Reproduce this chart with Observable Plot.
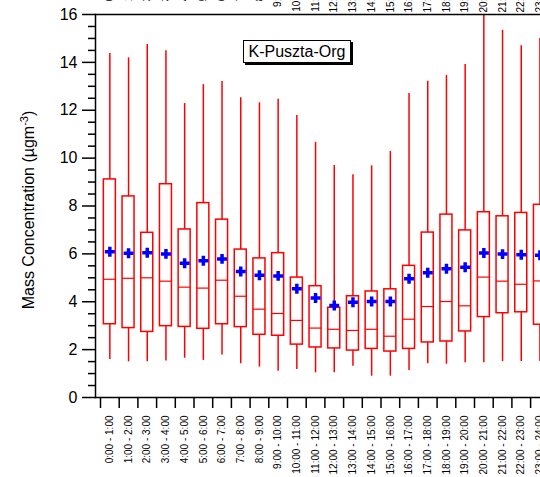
<!DOCTYPE html>
<html><head><meta charset="utf-8">
<script src="https://cdn.jsdelivr.net/npm/d3@7"></script>
<script src="https://cdn.jsdelivr.net/npm/@observablehq/plot@0.6"></script>
<style>
body{margin:0;background:#fff;}
#wrap{position:relative;width:540px;height:477px;overflow:hidden;font-family:Arial,"Liberation Sans",sans-serif;}
#wrap svg{overflow:hidden;display:block;}
#ylabel{position:absolute;left:28px;top:210px;transform:translate(-50%,-50%) rotate(-90deg);white-space:nowrap;font-size:16px;color:#000;}
#ylabel sup{font-size:11px;}
#legend{position:absolute;left:243px;top:40px;width:106px;height:21px;border:1px solid #000;box-shadow:2px 2px 0 #000;font-size:16px;text-align:center;line-height:21px;background:#fff;color:#000;}
</style></head>
<body><div id="wrap"><div id="ylabel">Mass Concentration (µgm<sup>-3</sup>)</div><div id="legend">K-Puszta-Org</div></div>
<script>
const hours = ["0:00 - 1:00","1:00 - 2:00","2:00 - 3:00","3:00 - 4:00","4:00 - 5:00","5:00 - 6:00","6:00 - 7:00","7:00 - 8:00","8:00 - 9:00","9:00 - 10:00","10:00 - 11:00","11:00 - 12:00","12:00 - 13:00","13:00 - 14:00","14:00 - 15:00","15:00 - 16:00","16:00 - 17:00","17:00 - 18:00","18:00 - 19:00","19:00 - 20:00","20:00 - 21:00","21:00 - 22:00","22:00 - 23:00","23:00 - 24:00"];
const whiskerLow = [1.59,1.49,1.49,1.53,1.64,1.55,1.78,1.41,1.27,1.10,1.17,1.03,1.03,1.31,0.89,0.89,1.13,1.41,1.39,1.45,1.45,1.50,1.50,1.50];
const q1 = [3.06,2.90,2.74,2.98,2.95,2.87,3.06,2.94,2.62,2.58,2.21,2.09,2.05,1.96,2.03,1.92,2.03,2.30,2.34,2.76,3.36,3.52,3.56,3.04];
const median = [4.94,4.98,5.00,4.86,4.61,4.57,4.90,4.23,3.69,3.51,3.22,2.90,2.85,2.80,2.85,2.56,3.27,3.80,4.01,3.83,5.03,4.86,4.73,4.87];
const q3 = [9.11,8.40,6.88,8.91,7.02,8.12,7.43,6.18,5.81,6.03,5.01,4.65,3.75,4.23,4.43,4.52,5.50,6.89,7.64,6.98,7.74,7.57,7.71,8.05];
const whiskerHigh = [14.37,14.19,14.75,14.49,12.28,13.07,13.20,12.52,12.31,12.46,11.78,10.66,9.69,9.31,9.68,10.28,12.70,13.21,13.45,13.91,16.50,15.34,14.69,15.00];
const mean = [6.09,6.03,6.05,6.00,5.61,5.71,5.79,5.26,5.11,5.08,4.54,4.16,3.84,3.98,4.01,4.01,4.96,5.21,5.38,5.44,6.04,5.99,5.96,5.94];
const yMajor = [0,2,4,6,8,10,12,14,16];

const data = hours.map((h, i) => ({i, c: i + 0.5, h, lo: whiskerLow[i], q1: q1[i], med: median[i], q3: q3[i], hi: whiskerHigh[i], mean: mean[i]}));
const yMinor = d3.range(0, 16.01, 0.5).filter(v => !yMajor.includes(v));
const boundaries = d3.range(0, hours.length + 1);
const inset = 3.35;

const plot = Plot.plot({
  width: 540, height: 477,
  marginLeft: 95, marginRight: 0, marginTop: 14, marginBottom: 80,
  style: {fontFamily: "Arial, 'Liberation Sans', sans-serif", background: "white", color: "black"},
  x: {type: "linear", domain: [0, hours.length], range: [100, 548.8]},
  y: {domain: [0, 16]},
  marks: [
    Plot.ruleX(data, {x: "c", y1: "lo", y2: "q1", stroke: "red", strokeWidth: 1.5}),
    Plot.ruleX(data, {x: "c", y1: "q3", y2: "hi", stroke: "red", strokeWidth: 1.5, clip: true}),
    Plot.rectY(data, {x1: "i", x2: d => d.i + 1, y1: "q1", y2: "q3", insetLeft: inset, insetRight: inset, fill: "none", stroke: "red", strokeWidth: 1.5}),
    Plot.ruleY(data, {y: "med", x1: "i", x2: d => d.i + 1, insetLeft: inset, insetRight: inset, stroke: "red", strokeWidth: 1.2}),
    Plot.dot(data, {x: "c", y: "mean", symbol: "plus", r: 3.3, stroke: "blue", strokeWidth: 3.5}),
    Plot.axisY({ticks: yMajor, tickSize: 13, tickPadding: 5, fontSize: 16, strokeWidth: 1.5, label: null}),
    Plot.axisY({ticks: yMinor, tickSize: 7, tickFormat: () => "", strokeWidth: 1.5, label: null}),
    Plot.axisX({ticks: boundaries, tickSize: 11, tickFormat: () => "", strokeWidth: 1.5, label: null}),
    Plot.text(data, {x: "c", text: "h", frameAnchor: "bottom", dy: 18, rotate: -90, textAnchor: "end", lineAnchor: "middle", fontSize: 10, fill: "black"}),
    Plot.text(data, {x: "c", text: "h", frameAnchor: "top", dy: -61, rotate: -90, textAnchor: "end", lineAnchor: "middle", fontSize: 10, fill: "black"}),
    Plot.frame({anchor: "left", strokeWidth: 1.5}),
    Plot.frame({anchor: "top", strokeWidth: 1.5}),
    Plot.frame({anchor: "bottom", strokeWidth: 1.5})
  ]
});
document.getElementById("wrap").prepend(plot);
</script>
</body></html>
